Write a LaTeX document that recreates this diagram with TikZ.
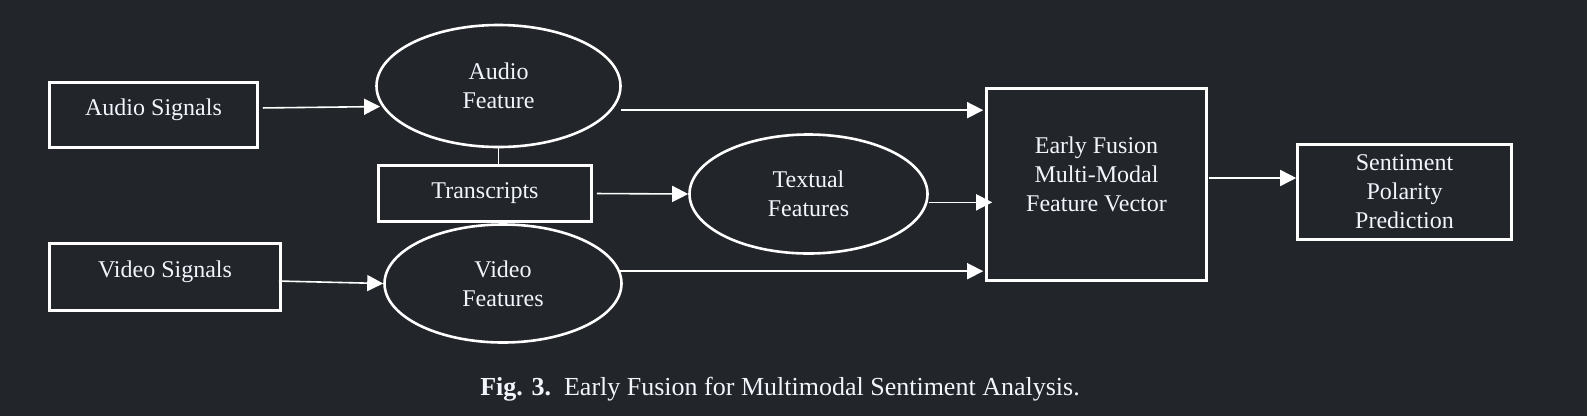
\documentclass[tikz,border=0pt]{standalone}
\usepackage{fontspec}
\setmainfont{Liberation Serif}
\usetikzlibrary{shapes.geometric,arrows.meta}
\definecolor{bgdark}{HTML}{22252A}
\definecolor{inkwhite}{HTML}{F2F5FC}
\begin{document}
\begin{tikzpicture}[x=1pt,y=1pt,>={Triangle[length=16pt,width=16pt]}]
        \tikzstyle{signal}=[rectangle,draw=white,line width=2.6pt,text=inkwhite,inner sep=0pt,font=\fontsize{24}{29}\selectfont,align=center]
        \tikzstyle{feature}=[ellipse,draw=white,line width=2.6pt,text=inkwhite,inner sep=0pt,font=\fontsize{24}{29}\selectfont,align=center]
        \tikzstyle{edge}=[draw=white,fill=white,line width=1.6pt,->]

        \useasboundingbox (0,0) rectangle (1587,-416);
        \fill[bgdark] (0,0) rectangle (1587,-416);

        \begin{scope}

                 \node [signal,minimum width=208pt,minimum height=65pt,text height=16pt,text depth=16pt] (asig) at (153.5,-115) {Audio Signals};
                 \node [signal,minimum width=231pt,minimum height=67pt,text height=16pt,text depth=16pt] (vsig) at (165,-277) {Video Signals};
                 \node [feature,minimum width=244pt,minimum height=122pt] (afeat) at (498.5,-86) {Audio\\Feature};
                 \node [signal,minimum width=213pt,minimum height=56pt] (trans) at (485,-193.5) {Transcripts};
                 \node [feature,minimum width=238pt,minimum height=119pt] (tfeat) at (808.5,-194) {Textual\\Features};
                 \node [feature,minimum width=237pt,minimum height=118pt] (vfeat) at (503,-283.5) {Video\\Features};
                 \node [signal,minimum width=220pt,minimum height=192pt,text depth=21pt] (fusion) at (1096.5,-184.5) {Early Fusion\\Multi-Modal\\Feature Vector};
                 \node [signal,minimum width=214pt,minimum height=95pt] (sent) at (1404.5,-192) {Sentiment\\Polarity\\Prediction};

                 \draw[edge, shorten <=4pt, shorten >=2pt] ([yshift=7pt]asig.east) -- (afeat.190);
                 \draw[edge, shorten <=2pt] ([shift={(-5pt,-4pt)}]vsig.east) -- (vfeat.west);
                 \draw[edge, -] (afeat.south) -- (afeat.south |- trans.north);
                 \draw[edge, shorten <=4pt] (trans.east) -- (tfeat.west);
                 \draw[edge, shorten <=9pt, shorten >=2pt] (afeat.-12) -- (afeat.-12 -| fusion.west);
                 \draw[edge, shorten <=1pt, shorten >=-7pt] (tfeat.-4.5) -- (tfeat.-4.5 -| fusion.west);
                 \draw[edge, shorten >=2pt] (vfeat.6) -- (vfeat.6 -| fusion.west);
                 \draw[edge, shorten <=1pt] ([yshift=6.5pt]fusion.east) -- ([yshift=6.5pt]fusion.east -| sent.west);

                 \node [text=inkwhite,font=\fontsize{26}{30}\selectfont] (caption) at (780,-389) {\textbf{Fig. 3.}\enspace Early Fusion for Multimodal Sentiment Analysis.};

        \end{scope}
\end{tikzpicture}
\end{document}
